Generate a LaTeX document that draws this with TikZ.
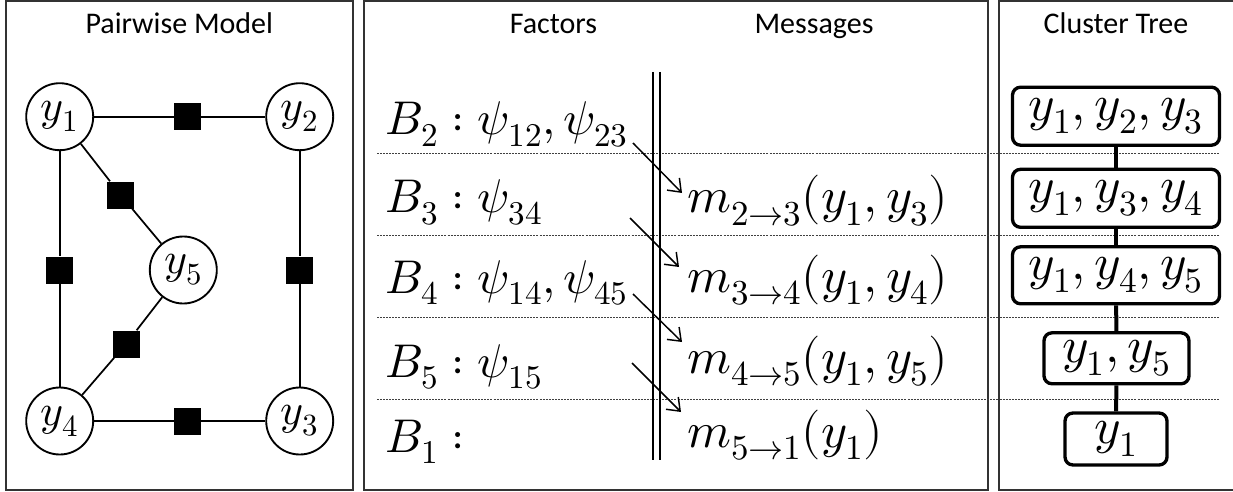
\documentclass[tikz,border=0pt]{standalone}
\usepackage{unicode-math}
\setmathfont{Latin Modern Math}
\newfontfamily\calib{Carlito}
\usetikzlibrary{arrows.meta}
\begin{document}
\begin{tikzpicture}[x=0.75pt,y=-0.75pt,
  panel/.style={draw=black!80, line width=1.5pt},
  title/.style={font=\calib\fontsize{22.5}{27}\selectfont, anchor=base, inner sep=0},
  var/.style={circle, draw, line width=1.4pt, minimum size=50.25pt, inner sep=0, fill=white, font=\fontsize{33}{38}\selectfont},
  fac/.style={rectangle, fill=black, minimum size=20.25pt, inner sep=0},
  edge/.style={line width=1.3pt},
  row/.style={anchor=base west, inner sep=0, font=\fontsize{35.5}{42}\selectfont},
  mrow/.style={anchor=base west, inner sep=0, font=\fontsize{37.5}{44}\selectfont},
  sep/.style={draw=black!75, line width=0.6pt, dash pattern=on 1.5pt off 0.8pt},
  dbl/.style={line width=1.2pt},
  clus/.style={draw, rounded corners=6pt, line width=2.5pt, inner sep=0, fill=white, font=\fontsize{38}{44}\selectfont},
  link/.style={line width=3pt},
  msg/.style={line width=1.1pt, -{Straight Barb[length=8.5pt,width=13pt]}}
]
\useasboundingbox (0,0) rectangle (1233,492);
% panels
\draw[panel] (6,1) rectangle (353,490);
\draw[panel] (364,1) rectangle (988,490);
\draw[panel] (1233,1) -| (999,490) -- (1233,490);
% titles
\node[title] (t1) at (179.3,34) {Pairwise Model};
\node[title] (t2) at (553.5,34) {Factors};
\node[title] (t3) at (814,34) {Messages};
\node[title] (t4) at (1116,34) {Cluster Tree};
% pairwise model
\node[var] (y1) at (59.7,116.7) {$y_1$};
\node[var] (y2) at (299.7,116.7) {$y_2$};
\node[var] (y5) at (183.3,270) {$y_5$};
\node[var] (y4) at (59.7,421) {$y_4$};
\node[var] (y3) at (299.7,421) {$y_3$};
\node[fac] (f12) at (187.3,116.7) {};
\node[fac] (f15) at (120.7,195) {};
\node[fac] (f14) at (59.7,270) {};
\node[fac] (f23) at (299.7,270) {};
\node[fac] (f45) at (126,344) {};
\node[fac] (f34) at (187.3,421) {};
\draw[edge] (y1) -- (f12) -- (y2);
\draw[edge] (y1) -- (f15) -- (y5);
\draw[edge] (y1) -- (f14) -- (y4);
\draw[edge] (y2) -- (f23) -- (y3);
\draw[edge] (y5) -- (f45) -- (y4);
\draw[edge] (y4) -- (f34) -- (y3);
% separators
\foreach \yy in {153,235,317,399} \draw[sep] (377,\yy) -- (1219,\yy);
\draw[dbl] (653,72) -- (653,460);
\draw[dbl] (660,72) -- (660,460);
% factors
\node[row] (b2) at (385,135) {$B_2 : \psi_{12}, \psi_{23}$};
\node[row] (b3) at (385,213) {$B_3 : \psi_{34}$};
\node[row] (b4) at (385,293) {$B_4 : \psi_{14}, \psi_{45}$};
\node[row] (b5) at (385,377) {$B_5 : \psi_{15}$};
\node[row] (b1) at (385,452) {$B_1 :$};
% messages
\node[mrow] (m23) at (687,213) {$m_{2\to3}(y_1, y_3)$};
\node[mrow] (m34) at (687,292) {$m_{3\to4}(y_1, y_4)$};
\node[mrow] (m45) at (687,373) {$m_{4\to5}(y_1, y_5)$};
\node[mrow] (m51) at (687,447) {$m_{5\to1}(y_1)$};
\coordinate (a1s) at (633,143); \coordinate (a1e) at (682,193);
\coordinate (a2s) at (630,218); \coordinate (a2e) at (679,267);
\coordinate (a3s) at (633,294); \coordinate (a3e) at (682,342);
\coordinate (a4s) at (632,363); \coordinate (a4e) at (681,412);
\draw[msg] (a1s) -- (a1e);
\draw[msg] (a2s) -- (a2e);
\draw[msg] (a3s) -- (a3e);
\draw[msg] (a4s) -- (a4e);
% cluster tree
\node[clus, minimum width=155.25pt, minimum height=43.5pt] (k1) at (1116,116.2) {$y_1, y_2, y_3$};
\node[clus, minimum width=155.25pt, minimum height=43.5pt] (k2) at (1116,198.3) {$y_1, y_3, y_4$};
\node[clus, minimum width=155.25pt, minimum height=42.75pt] (k3) at (1116,275.3) {$y_1, y_4, y_5$};
\node[clus, minimum width=108.75pt, minimum height=38.25pt] (k4) at (1116.5,358.3) {$y_1, y_5$};
\node[clus, minimum width=76.5pt, minimum height=39pt] (k5) at (1116,439) {$y_1$};
\draw[link] (k1) -- (k2);
\draw[link] (k2) -- (k3);
\draw[link] (k3) -- (k4);
\draw[link] (k4) -- (k5);
\end{tikzpicture}
\end{document}
